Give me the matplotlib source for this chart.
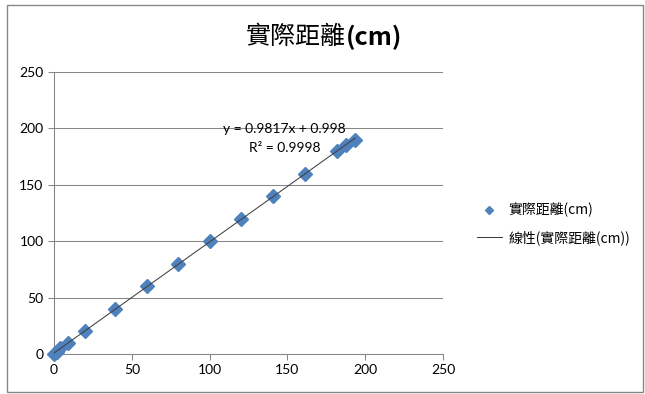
import numpy as np
import matplotlib
matplotlib.use("Agg")
import matplotlib.pyplot as plt
from matplotlib.patches import Rectangle

plt.rcParams['font.family'] = ['Lato', 'Noto Sans CJK TC', 'DejaVu Sans']

title_zh = "實際距離"
title_unit = "(cm)"
series_name = "實際距離(cm)"
trend_name = "線性(實際距離(cm))"
measured = [0, 2, 4, 9, 20, 39, 59.5, 80, 100, 120, 140.5, 161.5, 182, 187.5, 193.5]
actual = [0, 2, 5, 10, 20, 40, 60, 80, 100, 120, 140, 160, 180, 185, 190]
eq_text = "y = 0.9817x + 0.998"
r2_text = "R² = 0.9998"
ticks = [0, 50, 100, 150, 200, 250]

W, H = 645, 394
fig = plt.figure(figsize=(W / 100, H / 100), dpi=100)
fig.patches.append(Rectangle((7 / W, 2 / H), 636 / W, 387 / H, transform=fig.transFigure,
                             fill=False, edgecolor='#868686', lw=1.0))

ax = fig.add_axes([54 / W, 1 - 354 / H, (443 - 54) / W, (354 - 72) / H])
ax.set_xlim(0, 250)
ax.set_ylim(0, 250)
ax.set_xticks(ticks)
ax.set_yticks(ticks)
ax.grid(axis='y', color='#868686', lw=0.75)
ax.set_axisbelow(True)
for s in ['top', 'right']:
    ax.spines[s].set_visible(False)
for s in ['left', 'bottom']:
    ax.spines[s].set_color('#868686')
    ax.spines[s].set_linewidth(0.75)
ax.tick_params(direction='out', length=4, width=0.75, color='#868686',
               labelsize=10, labelcolor='#000000')

x = np.array(measured, dtype=float)
y = np.array(actual, dtype=float)
ax.plot(x, y, linestyle='none', marker='D', markersize=7.5, color='#4F81BD',
        markeredgecolor='#4F81BD', label=series_name, clip_on=False, zorder=3)
m, b = np.polyfit(x, y, 1)
xs = np.array([x.min(), x.max()])
ax.plot(xs, m * xs + b, color='#404040', lw=0.75, label=trend_name, zorder=4)

ax.text(148, 199.5, eq_text, fontsize=10, ha='center', va='center')
ax.text(148, 183, r2_text, fontsize=10, ha='center', va='center')

fig.text(346 / W, 1 - 37 / H, title_zh, fontsize=18, ha='right', va='center',
         family=['Noto Sans CJK TC', 'DejaVu Sans'])
fig.text(346 / W, 1 - 37 / H, title_unit, fontsize=18, ha='left', va='center',
         family=['Noto Sans CJK TC', 'DejaVu Sans'], fontweight='bold')

leg = fig.legend(loc='center left', bbox_to_anchor=(464 / W, 1 - 224 / H),
                 frameon=False, handlelength=1.8, handletextpad=0.5, markerscale=0.6,
                 labelspacing=0.9, prop={'family': ['Noto Sans CJK TC', 'DejaVu Sans'], 'size': 10})

fig.savefig("out.png", dpi=100)
